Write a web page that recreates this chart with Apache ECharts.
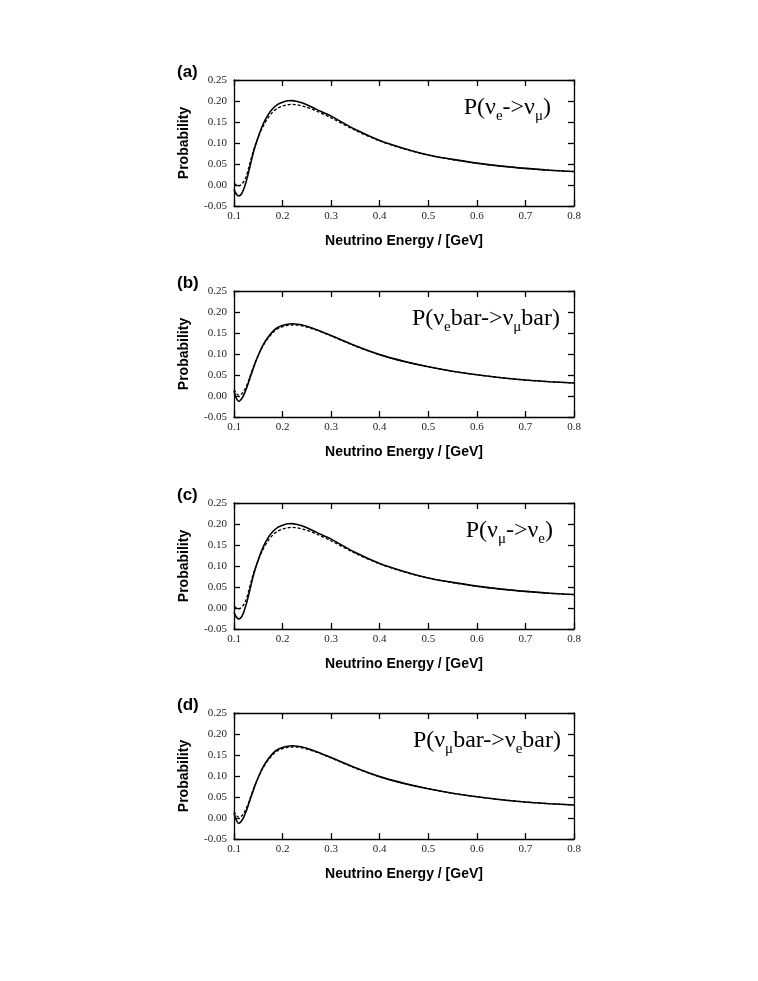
<!DOCTYPE html>
<html>
<head>
<meta charset="utf-8">
<script src="https://cdn.jsdelivr.net/npm/echarts@6/dist/echarts.min.js"></script>
<style>
html,body{margin:0;padding:0;background:#fff;}
#chart{width:758px;height:981px;}
</style>
</head>
<body>
<div id="chart"></div>
<script>
// ---- data ----
const energy = [0.1,0.105,0.11,0.115,0.12,0.125,0.13,0.14,0.15,0.16,0.17,0.18,0.19,0.2,0.21,0.22,0.23,0.24,0.25,0.27,0.3,0.35,0.4,0.45,0.5,0.55,0.6,0.65,0.7,0.75,0.8];

const aSolid  = [-0.010,-0.022,-0.026,-0.022,-0.010,0.008,0.030,0.078,0.115,0.145,0.167,0.182,0.192,0.197,0.2005,0.201,0.199,0.196,0.191,0.180,0.164,0.132,0.106,0.087,0.0715,0.061,0.052,0.045,0.0395,0.035,0.032];
const aDashed = [0.004,0.000,-0.002,0.001,0.008,0.020,0.040,0.082,0.114,0.140,0.160,0.174,0.183,0.188,0.191,0.192,0.191,0.188,0.185,0.176,0.160,0.130,0.105,0.086,0.071,0.0605,0.0518,0.045,0.0395,0.035,0.032];

const bSolid  = [0.012,-0.006,-0.013,-0.008,0.002,0.016,0.033,0.067,0.097,0.122,0.140,0.154,0.163,0.168,0.171,0.172,0.171,0.169,0.166,0.158,0.144,0.1195,0.0985,0.0825,0.0695,0.059,0.0505,0.0435,0.038,0.034,0.031];
const bDashed = [0.016,0.006,0.002,0.004,0.011,0.022,0.037,0.069,0.097,0.120,0.137,0.151,0.160,0.165,0.168,0.169,0.169,0.167,0.164,0.157,0.143,0.1185,0.098,0.0825,0.0695,0.059,0.0505,0.0435,0.038,0.034,0.031];

const cSolid  = [-0.010,-0.022,-0.026,-0.022,-0.010,0.008,0.030,0.078,0.115,0.145,0.167,0.182,0.192,0.197,0.2005,0.201,0.199,0.196,0.191,0.180,0.164,0.132,0.106,0.087,0.0715,0.061,0.052,0.045,0.0395,0.035,0.032];
const cDashed = [0.004,0.000,-0.002,0.001,0.008,0.020,0.040,0.082,0.114,0.140,0.160,0.174,0.183,0.188,0.191,0.192,0.191,0.188,0.185,0.176,0.160,0.130,0.105,0.086,0.071,0.0605,0.0518,0.045,0.0395,0.035,0.032];

const dSolid  = [0.012,-0.006,-0.013,-0.008,0.002,0.016,0.033,0.067,0.097,0.122,0.140,0.154,0.163,0.168,0.171,0.172,0.171,0.169,0.166,0.158,0.144,0.1195,0.0985,0.0825,0.0695,0.059,0.0505,0.0435,0.038,0.034,0.031];
const dDashed = [0.016,0.006,0.002,0.004,0.011,0.022,0.037,0.069,0.097,0.120,0.137,0.151,0.160,0.165,0.168,0.169,0.169,0.167,0.164,0.157,0.143,0.1185,0.098,0.0825,0.0695,0.059,0.0505,0.0435,0.038,0.034,0.031];

const panelLabels = ['(a)','(b)','(c)','(d)'];
const xAxisName = 'Neutrino Energy / [GeV]';
const yAxisName = 'Probability';
// annotation pieces: [main, sub, main, sub, main]
const annotations = [
  ['P(\u03bd','e','->\u03bd','\u03bc',')'],
  ['P(\u03bd','e','bar->\u03bd','\u03bc','bar)'],
  ['P(\u03bd','\u03bc','->\u03bd','e',')'],
  ['P(\u03bd','\u03bc','bar->\u03bd','e','bar)']
];
const solids = [aSolid,bSolid,cSolid,dSolid];
const dasheds = [aDashed,bDashed,cDashed,dDashed];

// ---- layout ----
const tops = [80,291,503,713];
const gridLeft = 234, gridWidth = 340, gridHeight = 126;
const annRight = [551,560,553,561];

const grids = [], xAxes = [], yAxes = [], series = [], graphics = [];
const axisLineStyle = {color:'#000', width:1.3};
const tickStyle = {color:'#000', width:1.3};

tops.forEach((top,i)=>{
  grids.push({left:gridLeft, top:top, width:gridWidth, height:gridHeight, containLabel:false});
  const xBase = {
    gridIndex:i, type:'value', min:0.1, max:0.8, interval:0.1,
    axisLine:{show:true, onZero:false, lineStyle:axisLineStyle},
    axisTick:{show:true, inside:true, length:6, lineStyle:tickStyle},
    splitLine:{show:false}
  };
  xAxes.push(Object.assign({}, xBase, {
    position:'bottom',
    axisLabel:{formatter:v=>v.toFixed(1), fontFamily:'Liberation Serif', fontSize:11, color:'#222', margin:5},
    name:xAxisName, nameLocation:'middle', nameGap:28,
    nameTextStyle:{fontFamily:'Liberation Sans', fontWeight:'bold', fontSize:14, color:'#000'}
  }));
  xAxes.push(Object.assign({}, xBase, {position:'top', axisLabel:{show:false}}));
  const yBase = {
    gridIndex:i, type:'value', min:-0.05, max:0.25, interval:0.05,
    axisLine:{show:true, onZero:false, lineStyle:axisLineStyle},
    axisTick:{show:true, inside:true, length:6, lineStyle:tickStyle},
    splitLine:{show:false}
  };
  yAxes.push(Object.assign({}, yBase, {
    position:'left',
    axisLabel:{formatter:v=>v.toFixed(2), fontFamily:'Liberation Serif', fontSize:11, color:'#222', margin:7},
    name:yAxisName, nameLocation:'middle', nameGap:43, nameRotate:90,
    nameTextStyle:{fontFamily:'Liberation Sans', fontWeight:'bold', fontSize:14, color:'#000'}
  }));
  yAxes.push(Object.assign({}, yBase, {position:'right', axisLabel:{show:false}}));

  series.push({
    type:'line', xAxisIndex:2*i, yAxisIndex:2*i,
    data: energy.map((e,k)=>[e, solids[i][k]]),
    showSymbol:false, smooth:0.3,
    lineStyle:{color:'#000', width:1.6}, z:3
  });
  series.push({
    type:'line', xAxisIndex:2*i, yAxisIndex:2*i,
    data: energy.map((e,k)=>[e, dasheds[i][k]]),
    showSymbol:false, smooth:0.3,
    lineStyle:{color:'#000', width:1.3, type:[3,2]}, z:2
  });

  graphics.push({
    type:'text', left:177, top:top-16,
    style:{text:panelLabels[i], font:'bold 17px "Liberation Sans"', fill:'#000'}
  });
  const ann = annotations[i];
  graphics.push({
    type:'text', right:758-annRight[i], top:top+16,
    style:{
      text:'{n|'+ann[0]+'}{s|'+ann[1]+'}{n|'+ann[2]+'}{s|'+ann[3]+'}{n|'+ann[4]+'}',
      rich:{
        n:{fontFamily:'Liberation Serif', fontSize:24, lineHeight:24, verticalAlign:'top', fill:'#000'},
        s:{fontFamily:'Liberation Serif', fontSize:15, lineHeight:15, verticalAlign:'top', padding:[13,0,0,0], fill:'#000'}
      }
    }
  });
});

const chart = echarts.init(document.getElementById('chart'), null, {renderer:'canvas'});
chart.setOption({
  backgroundColor:'#fff',
  animation:false,
  grid:grids, xAxis:xAxes, yAxis:yAxes, series:series, graphic:graphics
});
</script>
</body>
</html>
